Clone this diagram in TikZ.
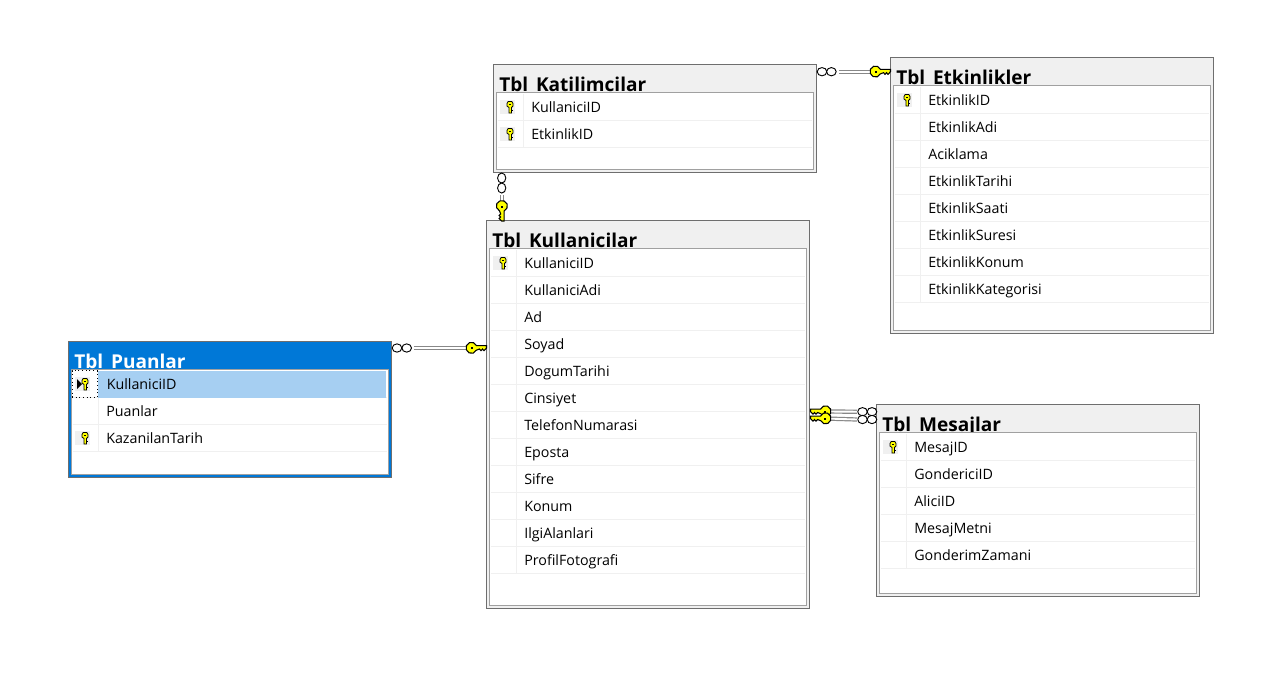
\documentclass[tikz,border=0pt]{standalone}
\usepackage{fontspec}
\setmainfont{Open Sans}
\usetikzlibrary{shapes.geometric}
\definecolor{framegray}{HTML}{6E6E6E}
\definecolor{innergray}{HTML}{A0A0A0}
\definecolor{headgray}{HTML}{F0F0F0}
\definecolor{selblue}{HTML}{0078D7}
\definecolor{rowblue}{HTML}{A6CFF2}
\definecolor{keyyellow}{HTML}{FFFF00}
\tikzset{
  tblframe/.style={draw=framegray, fill=headgray, line width=0.75pt, inner sep=0, outer sep=0, anchor=north west, minimum width=242.25pt},
  tblframesel/.style={tblframe, fill=selblue},
  tblinner/.style={draw=innergray, fill=white, line width=0.75pt, inner sep=0, outer sep=0, anchor=north west, minimum width=237.75pt},
  tbltitle/.style={inner sep=0, anchor=base west, font=\fontsize{14.3}{15}\selectfont\bfseries},
  tbltitlesel/.style={tbltitle, text=white},
  colname/.style={inner sep=0, anchor=base west, font=\fontsize{10.7}{12}\selectfont},
  rowline/.style={draw=headgray, line width=0.75pt},
  keybg/.style={fill=headgray, inner sep=0, minimum width=11.25pt, minimum height=10.5pt},
  ring/.style={ellipse, draw=black, fill=white, line width=0.7pt, inner sep=0, minimum width=7.2pt, minimum height=6.2pt},
  ringv/.style={ring, minimum width=6.2pt, minimum height=7.5pt},
  connline/.style={draw=innergray!85!black, line width=0.9pt, double=white, double distance=1.4pt},
  smallkey/.pic={
    \draw[black, fill=keyyellow, line width=0.6pt] (-3,-3.5) -- (-1.8,-5.5) -- (1.8,-5.5) -- (3,-3.5) -- (3,-1) -- (1.5,0.5) -- (1.5,6) -- (-1,6) -- (-1,0.5) -- (-3,-1) -- cycle;
    \fill[black] (-0.8,-3.5) rectangle (0.8,-2);
    \fill[black] (1.5,2.5) rectangle (2.8,3.5);
  },
  bigkey/.pic={
    \draw[black, fill=keyyellow, line width=0.8pt] (4,-2.4) -- (14.5,-2.4) -- (14.5,0) -- (12,2.6) -- (10.5,1) -- (9,2.6) -- (7.5,1) -- (4.3,2.2) arc[start angle=25, end angle=335, x radius=5.4, y radius=5.6];
    \fill[black] (-1,-1) rectangle (1,1);
  }
}
\newcommand{\tbltable}[8][]{
  \begin{scope}[shift={(#4-0.5,#5-0.5)}]
    \node[tblframe#1, minimum height={(#6+1)*0.75pt}] (#2) at (0,0) {};
    \node[tbltitle#1] (#2-title) at (5.5,26.5) {#3};
    \node[tblinner, minimum height={(#6-29.5)*0.75pt}] (#2-grid) at (3,27.5) {};
    \foreach \colitem [count=\n] in {#7} {
      \node[colname] (#2-\n) at (37.5,{20.5+27*\n}) {\colitem};
      \draw[rowline] (4,{28.5+27*\n}) -- (318,{28.5+27*\n});
      \draw[rowline] (30,{2+27*\n}) -- (30,{28.5+27*\n});
    }
    \foreach \k in {#8} {
      \node[keybg] (#2-bg\k) at (14,{15.5+27*\k}) {};
      \pic at (16.5,{15.5+27*\k}) {smallkey};
    }
  \end{scope}
}
\begin{document}
\begin{tikzpicture}[x=0.75pt, y=-0.75pt]
  \useasboundingbox (0,0) rectangle (1286,676);
  \tbltable{tblKatilimcilar}{Tbl\_Katilimcilar}{494}{65}{107}{KullaniciID, EtkinlikID}{1, 2}
  \tbltable{tblEtkinlikler}{Tbl\_Etkinlikler}{891}{58}{275}{EtkinlikID, EtkinlikAdi, Aciklama, EtkinlikTarihi, EtkinlikSaati, EtkinlikSuresi, EtkinlikKonum, EtkinlikKategorisi}{1}
  \tbltable{tblKullanicilar}{Tbl\_Kullanicilar}{487}{221}{387}{KullaniciID, KullaniciAdi, Ad, Soyad, DogumTarihi, Cinsiyet, TelefonNumarasi, Eposta, Sifre, Konum, IlgiAlanlari, ProfilFotografi}{1}
  \tbltable{tblMesajlar}{Tbl\_Mesajlar}{877}{405}{191}{MesajID, GondericiID, AliciID, MesajMetni, GonderimZamani}{1}
  \tbltable[sel]{tblPuanlar}{Tbl\_Puanlar}{69}{342}{135}{KullaniciID, Puanlar, KazanilanTarih}{1, 3}
  \fill[rowblue] (97.5,370.5) rectangle (386,397.5);
  \node[colname] (selName) at (106.5,389) {KullaniciID};
  \node[draw=black, dotted, line width=0.75pt, inner sep=0, minimum width=18.75pt, minimum height=20.25pt] (selHeader) at (84.5,384) {};
  \fill[black] (77,379) -- (82,384) -- (77,389) -- cycle;
  % connectors
  \node[ring] (ringA1) at (397,348) {};
  \node[ring] (ringA2) at (406.7,348) {};
  \coordinate (keyA) at (472,348);
  \draw[connline] (ringA2.east) ++(2,0) -- (keyA);
  \pic at (keyA) {bigkey};
  \node[ringv] (ringB1) at (501.7,178) {};
  \node[ringv] (ringB2) at (501.7,188) {};
  \coordinate (keyB) at (501.7,206.5);
  \draw[connline] (ringB2.south) ++(0,2) -- (keyB);
  \pic[rotate=-90] at (keyB) {bigkey};
  \node[ring] (ringC1) at (822,71.7) {};
  \node[ring] (ringC2) at (831.4,71.7) {};
  \coordinate (keyC) at (876,71.7);
  \draw[connline] (ringC2.east) ++(2,0) -- (keyC);
  \pic at (keyC) {bigkey};
  \node[ring] (ringD1) at (862.5,411.7) {};
  \node[ring] (ringD2) at (872,411.7) {};
  \node[ring] (ringE1) at (862.5,419.5) {};
  \node[ring] (ringE2) at (872,419.5) {};
  \coordinate (keyD) at (825,411.5);
  \coordinate (keyE) at (825,418.5);
  \draw[connline] (ringD1.west) -- (keyD);
  \draw[connline] (ringE1.west) -- (keyE);
  \pic[xscale=-1] at (keyD) {bigkey};
  \pic[xscale=-1] at (keyE) {bigkey};
\end{tikzpicture}
\end{document}
